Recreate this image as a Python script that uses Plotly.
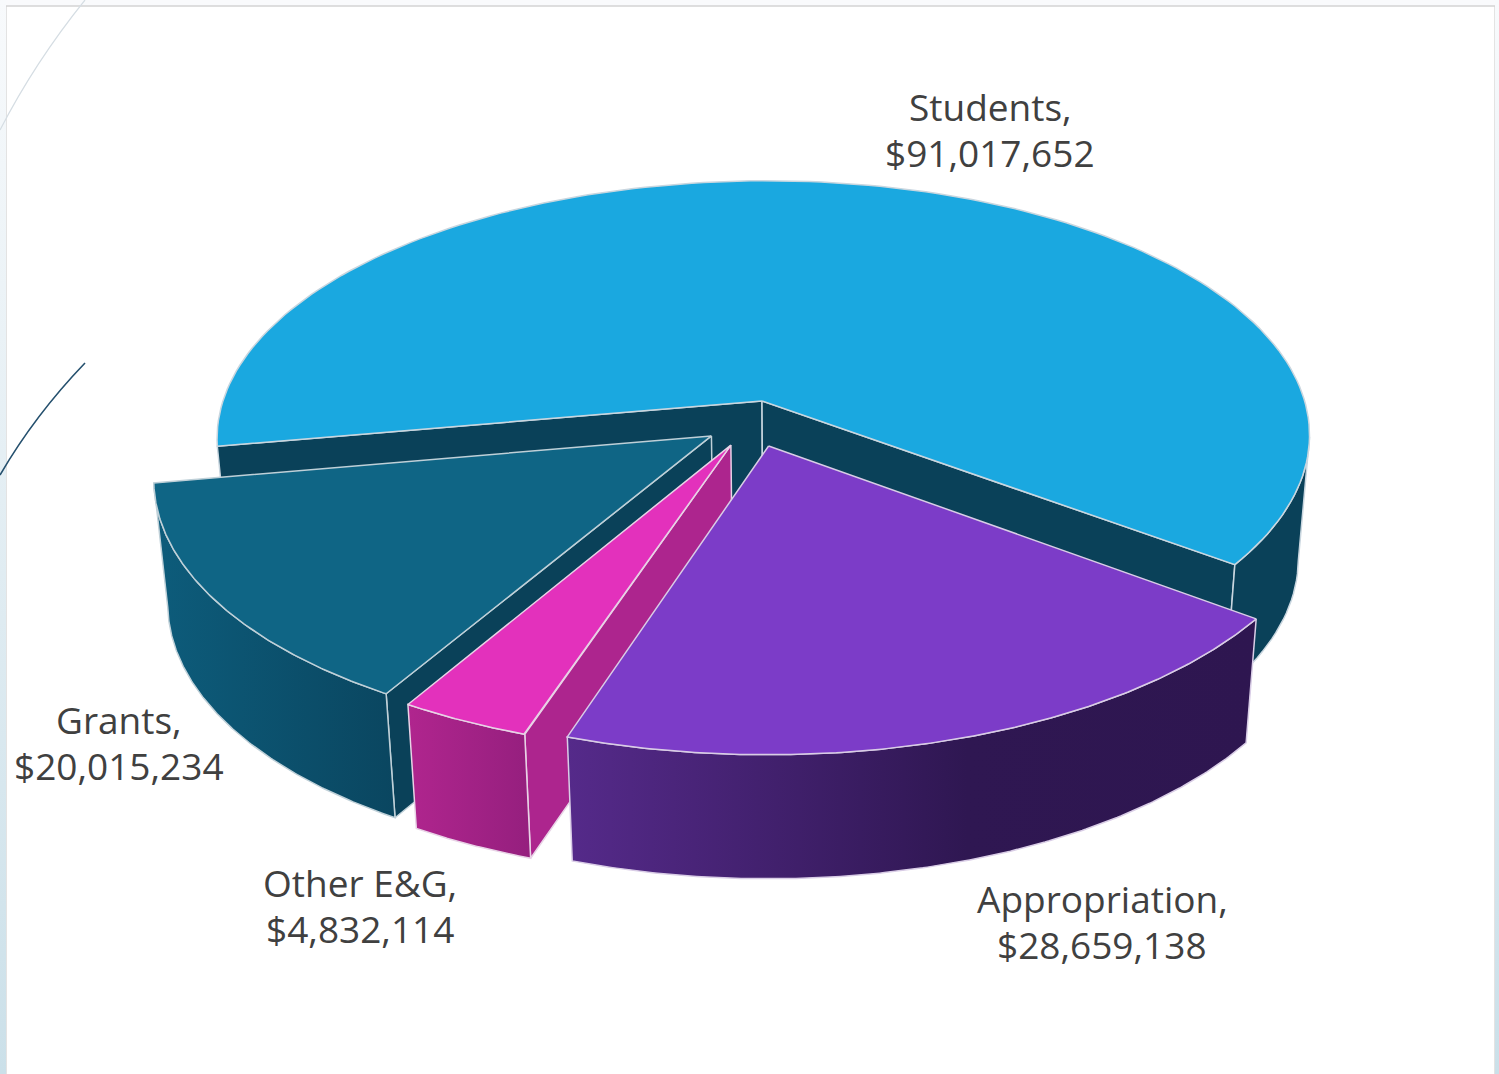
import numpy as np
import plotly.graph_objects as go

# ---- data
categories = ["Students", "Appropriation", "Other E&G", "Grants"]
revenue = [91017652, 28659138, 4832114, 20015234]

# ---- styles
top_colors = ["#1AA8E0", "#7C3CC8", "#E331BC", "#0F6585"]
rim_colors = [
    [[0, "#0A4159"], [1, "#0A4159"]],
    [[0, "#552A8A"], [0.58, "#2F1752"], [1, "#2E1650"]],
    [[0, "#B0258E"], [1, "#951F7E"]],
    [[0, "#0D5C7B"], [1, "#0A4660"]],
]
cut_colors = ["#0A4159", "#2E1650", "#AD258E", "#0A4159"]
edge_colors = ["#C9D6DF", "#D9CDE6", "#E8D3E6", "#BFD0D8"]
label_xy = {"Students": (990, 129), "Appropriation": (1102, 921), "Other E&G": (360, 905), "Grants": (119, 742)}
paint_order = [0, 3, 2, 1]

# ---- 3-D scene: pie plane seen in perspective
CX, CY = 762, 401
R, S, K = 541, 251, 0.14
TILT, SHEAR, DEPTH, VX, SHR = 0.011, 0.036, 124, 794, 0.0218
START = 188.8
explode = [(0, 0, 1.0), (0.009, -0.175, 1.002), (-0.059, -0.170, 0.998), (-0.094, -0.1344, 1.002)]


def project(u, v, low=False):
    u, v = np.asarray(u, float), np.asarray(v, float)
    w = 1 + K * v
    sy = CY - S * v / w - TILT * (R * u / w)
    sx = CX + R * u / w + SHEAR * (sy - CY)
    if low:
        sx = sx + (VX - sx) * SHR
        sy = sy + DEPTH
    return sx, sy


total = sum(revenue)
sweeps = [360 * r / total for r in revenue]
ends = START - np.cumsum(sweeps)
starts = ends + np.array(sweeps)

fig = go.Figure()


def poly(x, y, name, edge, color=None, grad=None, width=1.5):
    kw = dict(fillgradient=dict(type="horizontal", colorscale=grad)) if grad else dict(fillcolor=color)
    fig.add_trace(go.Scatter(x=np.r_[x, x[0]], y=np.r_[y, y[0]], mode="lines", fill="toself", name=name,
                             line=dict(color=edge, width=width), hoverinfo="name", showlegend=False, **kw))


# frame bands
for x0, x1 in ((0, 6), (1495, 1499)):
    fig.add_trace(go.Scatter(x=[x0, x1, x1, x0, x0], y=[0, 0, 1074, 1074, 0], mode="lines", fill="toself", line=dict(width=0),
                             fillgradient=dict(type="vertical", colorscale=[[0, "#CBE0E9"], [1, "#F8FAFC"]]),
                             hoverinfo="skip", showlegend=False))

for i in paint_order:
    du, dv, r = explode[i]
    name, edge = categories[i], edge_colors[i]
    a0, a1 = starts[i], ends[i]  # clockwise from a0 to a1
    th = np.radians(np.linspace(a0, a1, 160))
    u, v = du + r * np.cos(th), dv + r * np.sin(th)
    ax, ay = project(du, dv)
    bx, by = project(du, dv, low=True)

    # cut walls
    for a, sign in ((a0, 1), (a1, -1)):
        if np.sin(np.radians(a + sign * 90)) < 0:
            eu, ev = du + r * np.cos(np.radians(a)), dv + r * np.sin(np.radians(a))
            ex, ey = project(eu, ev)
            fx, fy = project(eu, ev, low=True)
            poly(np.array([ax, ex, fx, bx], float), np.array([ay, ey, fy, by], float), name, edge, color=cut_colors[i])

    # outer rim, front-facing part only (right-hand run for the big back slice)
    front = np.degrees(th) < 180
    front &= v <= -K
    if front.any():
        tx, ty = project(u[front], v[front])
        lx, ly = project(u[front], v[front], low=True)
        poly(np.r_[tx, lx[::-1]], np.r_[ty, ly[::-1]], name, edge, grad=rim_colors[i])

    # top face
    tx, ty = project(u, v)
    poly(np.r_[float(ax), tx], np.r_[float(ay), ty], name, edge, color=top_colors[i])

for cat, val in zip(categories, revenue):
    lx, ly = label_xy[cat]
    for text, off in ((f"{cat},", -23), (f"${val:,}", 23)):
        fig.add_annotation(x=lx, y=ly + off, text=text, showarrow=False,
                           font=dict(family="Open Sans", size=37, color="#404040"), xanchor="center", yanchor="middle")

fig.update_layout(
    width=1499, height=1074, margin=dict(l=0, r=0, t=0, b=0),
    paper_bgcolor="#F9FAFC", plot_bgcolor="rgba(0,0,0,0)", showlegend=False,
    xaxis=dict(range=[0, 1499], visible=False, fixedrange=True),
    yaxis=dict(range=[1074, 0], visible=False, fixedrange=True),
    shapes=[
        dict(type="rect", x0=6, x1=1495, y0=6, y1=1076, xref="x", yref="y", layer="below",
             fillcolor="white", line=dict(color="#D4D4D4", width=1.3)),
        dict(type="path", path="M 85,0 Q 35,62 0,130", xref="x", yref="y", layer="above", line=dict(color="#D5DDE3", width=1.2)),
        dict(type="path", path="M 85,363 Q 35,415 0,475", xref="x", yref="y", layer="above", line=dict(color="#25506E", width=1.6)),
    ],
)

fig.write_html("out.html", config={"displayModeBar": False},
               post_script="document.body.style.margin='0';document.body.style.overflow='hidden';")
